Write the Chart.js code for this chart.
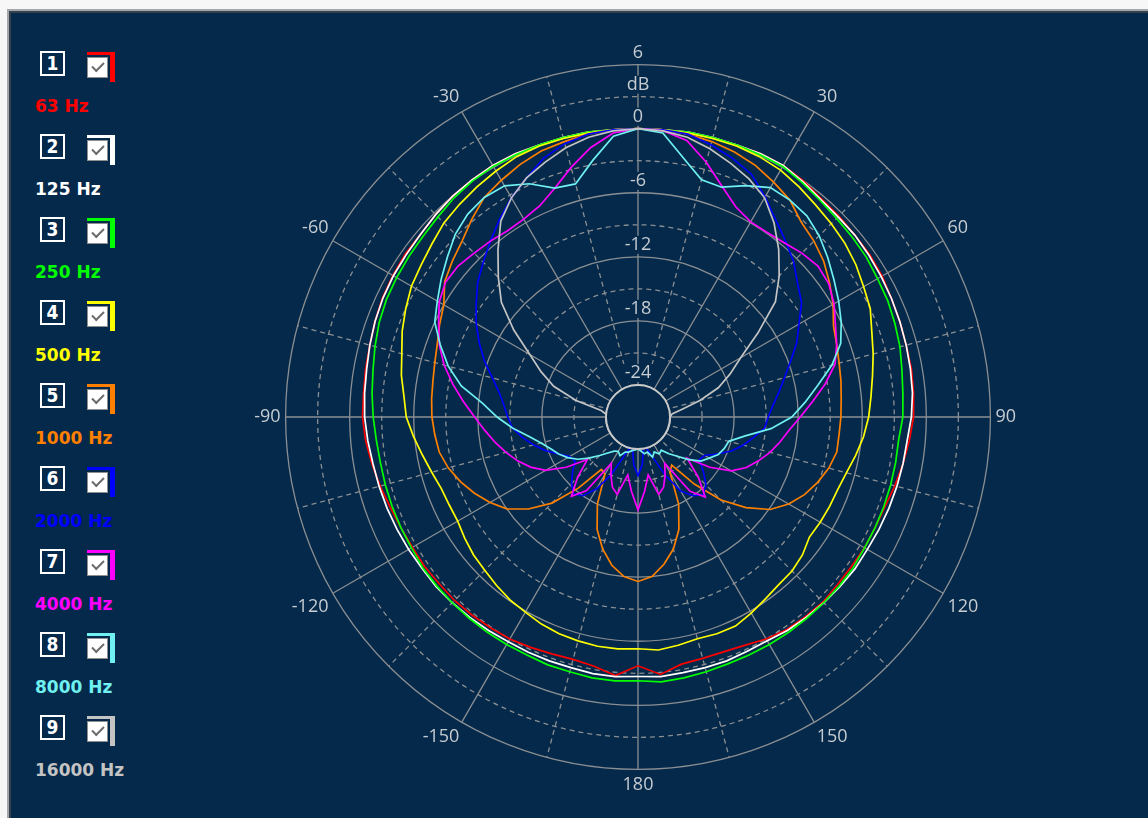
<!DOCTYPE html>
<html>
<head>
<meta charset="utf-8">
<script src="https://cdn.jsdelivr.net/npm/chart.js@4.4.1/dist/chart.umd.min.js"></script>
<style>
  html, body { margin: 0; padding: 0; width: 1148px; height: 818px; overflow: hidden; background: #f7f7f7; }
  #panel { position: absolute; left: 7px; top: 9px; right: 0; bottom: 0; background: #04294a;
           border-left: 2px solid #a3a7ab; border-top: 2px solid #a3a7ab; box-shadow: inset 2px 2px 0 #35414d; }
  #polar { position: absolute; left: 246px; top: 39px; }
  .num { position: absolute; left: 40px; width: 25px; height: 25px; box-sizing: border-box; border: 2px solid #fff;
         color: #fff; font: bold 19px "DejaVu Sans Condensed", "DejaVu Sans", sans-serif; line-height: 21px; text-align: center; }
  .frame { position: absolute; left: 87px; width: 28px; height: 30px; box-sizing: border-box; border-top: 3px solid; border-right: 5px solid; }
  .box { position: absolute; left: 87px; width: 21px; height: 21px; box-sizing: border-box; background: #fff; border: 1px solid #8e8e8e; }
  .box::after { content: ""; position: absolute; left: 4px; top: 4px; width: 10px; height: 5px;
                border-left: 2px solid #6c6c6c; border-bottom: 2px solid #6c6c6c; transform: rotate(-45deg); }
  .lbl { position: absolute; left: 35px; font: bold 17px "DejaVu Sans", sans-serif; line-height: 20px; white-space: nowrap; }
</style>
</head>
<body>
<div id="panel"></div>
<div id="legend"></div>
<canvas id="polar" width="780" height="758"></canvas>
<script>
// angle in degrees, clockwise from the front (0 = top)
const angles = [0, 5, 10, 15, 20, 25, 30, 35, 40, 45, 50, 55, 60, 65, 70, 75, 80, 85,
  90, 95, 100, 105, 110, 115, 120, 125, 130, 135, 140, 145, 150, 155, 160, 165, 170, 175,
  180, 185, 190, 195, 200, 205, 210, 215, 220, 225, 230, 235, 240, 245, 250, 255, 260, 265,
  270, 275, 280, 285, 290, 295, 300, 305, 310, 315, 320, 325, 330, 335, 340, 345, 350, 355];

const seriesNames = ['63 Hz', '125 Hz', '250 Hz', '500 Hz', '1000 Hz', '2000 Hz', '4000 Hz', '8000 Hz', '16000 Hz'];
const seriesColors = ['#ff0000', '#ffffff', '#00ff00', '#ffff00', '#ff8000', '#0000ff', '#ff00ff', '#70f0f0', '#c4c4c4'];

// level in dB, one value per angle
const hz63 = [0, 0, 0.1, 0.1, 0.1, 0.2, 0.2, 0, -0.3, -0.4, -0.5, -0.5, -0.6, -0.8, -0.9, -1.0, -1.0, -1.1,
  -1.2, -1.5, -1.8, -2.1, -2.4, -2.5, -2.5, -2.6, -2.6, -2.5, -2.6, -2.7, -3.0, -3.4, -3.6, -3.6, -3.5, -2.8,
  -3.7, -2.7, -3.3, -3.5, -3.4, -3.2, -3.0, -2.9, -2.8, -2.7, -2.7, -2.6, -2.6, -2.5, -2.3, -2.0, -1.7, -1.4,
  -1.2, -1.2, -1.1, -1.0, -0.8, -0.6, -0.5, -0.4, -0.4, -0.2, 0, 0.1, 0.2, 0.2, 0.1, 0.1, 0.1, 0];
const hz125 = [0, 0, 0.1, 0.1, 0.1, 0.2, 0.2, -0.1, -0.4, -0.5, -0.5, -0.6, -0.7, -0.8, -0.9, -1.0, -1.1, -1.2,
  -1.4, -1.7, -1.8, -1.9, -2.0, -2.1, -2.2, -2.2, -2.3, -2.4, -2.5, -2.6, -2.8, -2.8, -2.7, -2.7, -2.7, -2.6,
  -2.7, -2.6, -2.6, -2.7, -2.7, -2.7, -2.7, -2.6, -2.5, -2.4, -2.3, -2.3, -2.2, -2.1, -2.0, -1.9, -1.8, -1.6,
  -1.4, -1.3, -1.2, -1.0, -0.8, -0.65, -0.55, -0.5, -0.4, -0.2, 0, 0.1, 0.2, 0.2, 0.1, 0.1, 0.1, 0];
const hz250 = [0, 0, 0.1, 0.1, 0.1, 0.1, 0.1, -0.2, -0.5, -0.7, -0.8, -0.9, -1.1, -1.2, -1.4, -1.6, -1.9, -2.1,
  -2.2, -2.5, -2.5, -2.5, -2.5, -2.5, -2.5, -2.4, -2.4, -2.4, -2.4, -2.4, -2.4, -2.4, -2.4, -2.3, -2.2, -2.1,
  -2.3, -2.2, -2.2, -2.3, -2.3, -2.4, -2.4, -2.4, -2.4, -2.4, -2.4, -2.4, -2.5, -2.5, -2.5, -2.5, -2.5, -2.4,
  -2.2, -2.0, -1.8, -1.5, -1.2, -1.0, -0.9, -0.8, -0.7, -0.5, -0.2, 0, 0.1, 0.1, 0.1, 0.1, 0.1, 0];
const hz500 = [0, 0, 0, 0, 0, -0.1, -0.3, -0.7, -1.1, -1.4, -1.7, -2.1, -2.6, -3.0, -3.7, -4.2, -4.7, -5.1,
  -5.4, -5.8, -6.3, -6.8, -7.1, -7.2, -7.3, -7.4, -6.9, -6.6, -6.5, -6.2, -5.8, -5.4, -5.4, -5.5, -5.3, -5.1,
  -5.3, -5.2, -5.2, -5.3, -5.4, -5.6, -5.9, -6.1, -6.4, -6.7, -6.9, -7.2, -7.5, -7.5, -7.4, -7.0, -6.5, -5.9,
  -5.3, -5.0, -4.5, -4.1, -3.5, -3.0, -2.5, -2.2, -1.8, -1.3, -1.0, -0.7, -0.4, -0.1, 0, 0, 0, 0];
const hz1000 = [0, 0, -0.1, -0.3, -0.6, -1.0, -1.6, -2.2, -3.2, -3.7, -4.3, -5.1, -5.9, -6.8, -7.2, -7.5, -7.7, -7.9,
  -8.0, -8.1, -8.1, -8.5, -9.1, -9.8, -10.7, -11.9, -13.8, -16.0, -18.8, -21.5, -21.0, -18.0, -15.8, -14.2, -13.0, -12.0,
  -11.6, -12.0, -12.9, -14.2, -15.8, -18.0, -20.8, -21.0, -18.3, -15.6, -13.6, -12.0, -11.0, -10.1, -9.3, -8.6, -8.1, -7.9,
  -7.7, -7.6, -7.5, -7.3, -7.0, -6.5, -6.0, -4.9, -4.3, -3.7, -2.8, -1.9, -1.4, -0.9, -0.5, -0.3, -0.1, 0];
const hz2000 = [0, 0, -0.1, -0.6, -1.2, -1.9, -3.2, -4.5, -5.5, -6.4, -7.5, -8.3, -9.6, -10.6, -11.8, -12.8, -13.6, -14.3,
  -14.8, -15.1, -16.0, -16.8, -17.7, -18.8, -19.8, -20.0, -19.0, -18.0, -17.5, -18.0, -19.0, -21.0, -23.0, -24, -24, -22.5,
  -21.5, -22.5, -24, -24, -23.0, -21.0, -19.2, -18.0, -17.6, -18.2, -19.0, -19.8, -19.6, -18.8, -17.8, -16.9, -16.0, -15.2,
  -14.8, -14.4, -13.8, -12.9, -11.7, -10.6, -9.5, -8.5, -7.4, -6.5, -5.5, -4.4, -3.3, -2.3, -1.2, -0.5, -0.1, 0];
const hz4000 = [0, -0.1, -0.7, -2.3, -4.0, -5.3, -5.9, -5.9, -5.7, -5.3, -5.0, -5.2, -5.8, -6.6, -7.2, -7.9, -9.2, -10.6,
  -11.8, -12.8, -13.5, -14.2, -15.0, -15.8, -16.9, -18.8, -21.0, -19.0, -17.2, -18.5, -22.0, -21.0, -20.0, -19.5, -21.5, -20.0,
  -18.3, -20.0, -21.5, -19.5, -20.0, -21.0, -22.0, -18.6, -17.3, -19.0, -20.8, -18.8, -17.0, -15.9, -15.0, -14.2, -13.4, -12.6,
  -11.7, -10.6, -9.4, -8.2, -7.2, -6.4, -5.5, -5.0, -5.0, -5.3, -5.5, -5.7, -5.6, -5.2, -4.2, -2.8, -1.4, -0.3];
const hz8000 = [0, -0.3, -2.4, -4.0, -4.1, -3.1, -2.2, -2.2, -2.4, -3.0, -3.8, -4.6, -5.3, -6.0, -6.8, -8.2, -9.9, -11.3,
  -12.6, -14.5, -16.8, -18.2, -18.4, -18.7, -19.3, -19.8, -20.8, -21.8, -22.5, -23.2, -23.0, -23.4, -23.0, -23.6, -23.5, -23.8,
  -24, -23.9, -23.8, -23.6, -23.5, -23.0, -23.3, -23.1, -22.6, -21.9, -21.0, -20.1, -19.4, -18.8, -18.3, -17.6, -16.6, -15.2,
  -13.8, -12.4, -10.2, -8.6, -7.3, -6.0, -5.3, -4.5, -3.7, -2.8, -2.2, -1.9, -2.0, -2.9, -4.2, -4.4, -2.6, -0.6];
const hz16000 = [0, -0.1, -0.4, -1.0, -1.7, -2.4, -3.3, -4.8, -6.5, -8.3, -10.2, -13.3, -15.9, -17.5, -19.0, -21.0, -22.8, -23.8,
  -24, -24, -24, -24, -24, -24, -24, -24, -24, -24, -24, -24, -24, -24, -24, -24, -24, -24,
  -24, -24, -24, -24, -24, -24, -24, -24, -24, -24, -24, -24, -24, -24, -24, -24, -24, -24,
  -24, -24, -23.5, -21.0, -18.6, -17.0, -15.3, -12.8, -10.3, -8.5, -6.6, -4.6, -3.3, -2.3, -1.6, -0.9, -0.4, -0.1];
const seriesValues = [hz63, hz125, hz250, hz500, hz1000, hz2000, hz4000, hz8000, hz16000];

// radial scale
const levelMin = -27;
const levelMax = 6;
const ringValues = [6, 3, 0, -6, -12, -18, -24];
const ringLabels = ['6', 'dB', '0', '-6', '-12', '-18', '-24'];

const bg = '#04294a';
const gridColor = '#8b8f93';
const textColor = '#c6ccd2';

// legend on the left
const legend = document.getElementById('legend');
seriesNames.forEach((name, i) => {
  const y = 83 * i;
  legend.insertAdjacentHTML('beforeend',
    '<div class="num" style="top:' + (51 + y) + 'px">' + (i + 1) + '</div>' +
    '<div class="frame" style="top:' + (52 + y) + 'px;border-color:' + seriesColors[i] + '"></div>' +
    '<div class="box" style="top:' + (57 + y) + 'px"></div>' +
    '<div class="lbl" style="top:' + (96 + y) + 'px;color:' + seriesColors[i] + '">' + name + '</div>');
});

const ringText = {
  id: 'ringText',
  afterDraw(chart) {
    const s = chart.scales.r;
    const ctx = chart.ctx;
    ctx.save();
    ctx.font = '18px "Open Sans", sans-serif';
    ctx.textAlign = 'center';
    ctx.textBaseline = 'middle';
    ringValues.forEach((v, i) => {
      const y = s.yCenter - s.getDistanceFromCenterForValue(v) - 12;
      const w = ctx.measureText(ringLabels[i]).width;
      ctx.fillStyle = bg;
      ctx.fillRect(s.xCenter - w / 2 - 2, y - 9, w + 4, 18);
      ctx.fillStyle = textColor;
      ctx.fillText(ringLabels[i], s.xCenter, y);
    });
    ctx.restore();
  }
};

const centerDisc = {
  id: 'centerDisc',
  afterDatasetsDraw(chart) {
    const s = chart.scales.r;
    const ctx = chart.ctx;
    const rad = s.getDistanceFromCenterForValue(-24);
    ctx.save();
    ctx.beginPath();
    ctx.arc(s.xCenter, s.yCenter, rad, 0, Math.PI * 2);
    ctx.fillStyle = bg;
    ctx.fill();
    ctx.lineWidth = 2;
    ctx.strokeStyle = '#c8c8c8';
    ctx.stroke();
    ctx.restore();
  }
};

new Chart(document.getElementById('polar'), {
  type: 'radar',
  data: {
    labels: angles,
    datasets: seriesNames.map((name, i) => ({
      label: name,
      data: seriesValues[i],
      borderColor: seriesColors[i],
      borderWidth: 1.7,
      pointRadius: 0,
      pointHoverRadius: 0,
      fill: false,
      tension: 0,
      order: seriesNames.length - i
    }))
  },
  options: {
    responsive: false,
    animation: false,
    devicePixelRatio: 1,
    layout: { padding: 0 },
    plugins: { legend: { display: false }, tooltip: { enabled: false } },
    scales: {
      r: {
        min: levelMin,
        max: levelMax,
        startAngle: 0,
        ticks: { display: false, stepSize: 3 },
        grid: {
          circular: true,
          color: c => (c.tick && c.tick.value > levelMin) ? gridColor : 'transparent',
          lineWidth: 1.3
        },
        border: { dash: c => (c.tick && c.tick.value % 6 === 0) ? [] : [5, 4] },
        angleLines: {
          color: c => c.index % 3 === 0 ? gridColor : 'transparent',
          lineWidth: c => c.index % 3 === 0 ? 1.3 : 0,
          borderDash: c => c.index % 6 === 0 ? [] : [5, 4]
        },
        pointLabels: {
          color: textColor,
          font: { size: 18, family: '"Open Sans", sans-serif' },
          padding: 5,
          callback: a => (a !== 0 && a % 30 === 0) ? String(a > 180 ? a - 360 : a) : ''
        }
      }
    }
  },
  plugins: [centerDisc, ringText]
});
</script>
</body>
</html>
